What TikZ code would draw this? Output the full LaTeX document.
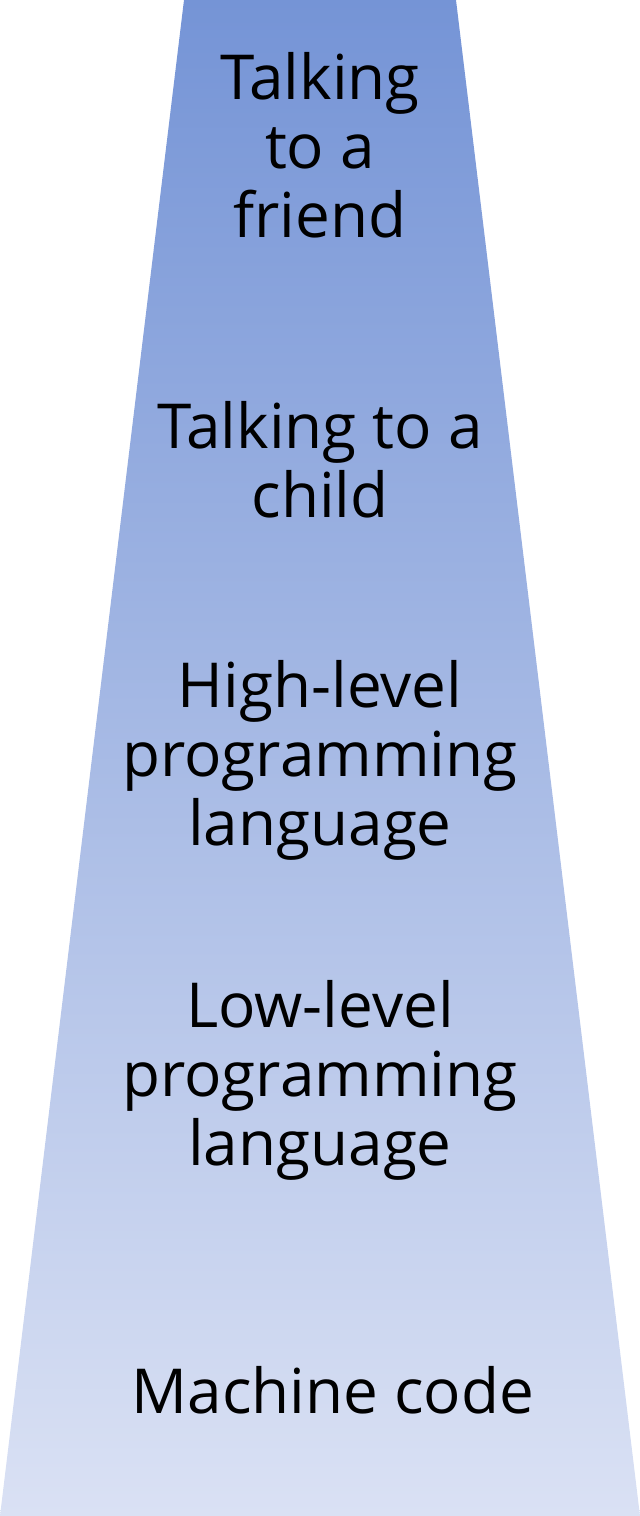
\documentclass[tikz,border=0pt]{standalone}
\usepackage{fontspec}
\setmainfont{Open Sans}
\definecolor{topblue}{HTML}{7594D6}
\definecolor{bottomblue}{HTML}{DAE1F4}
\tikzset{
  level/.style={align=center, inner sep=0pt, font=\fontsize{62}{69}\selectfont}
}
\begin{document}
\begin{tikzpicture}[x=1pt,y=1pt]
  \useasboundingbox (0,0) rectangle (640,1516);
  % trapezoid
  \shade[top color=topblue, bottom color=bottomblue] (0,0) -- (640,0) -- (456,1516) -- (184,1516) -- cycle;
  % levels, top to bottom
  \node[level] (friend) at (320,1371) {Talking\\to a\\friend};
  \node[level] (child) at (320,1056) {Talking to a\\child};
  \node[level] (high) at (320,756) {High-level\\programming\\language};
  \node[level] (low) at (320,436) {Low-level\\programming\\language};
  \node[level] (machine) at (333,126) {Machine code};
\end{tikzpicture}
\end{document}
